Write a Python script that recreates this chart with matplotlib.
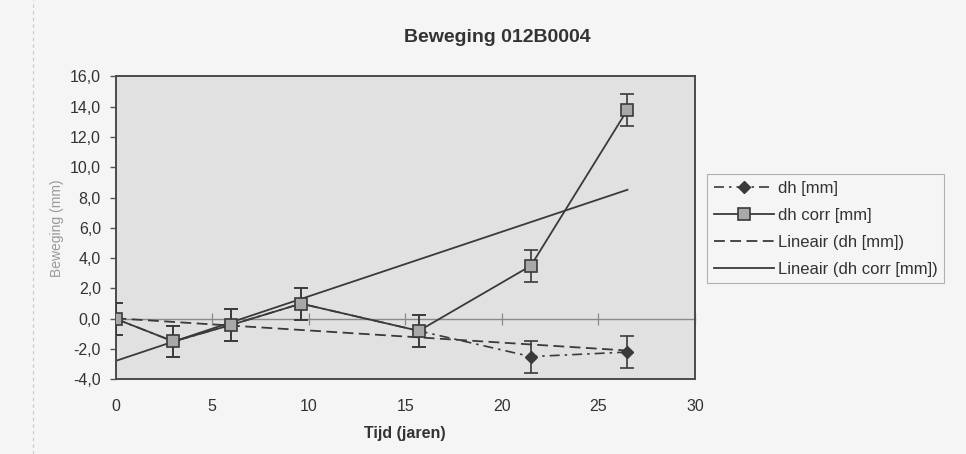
import numpy as np
import matplotlib.pyplot as plt
from matplotlib.ticker import FuncFormatter

plt.rcParams['font.family'] = ['Liberation Sans', 'DejaVu Sans']

# --- values ---
tijd = [0, 3, 6, 9.6, 15.7, 21.5, 26.5]          # jaren
dh = [0.0, -1.5, -0.4, 1.0, -0.8, -2.5, -2.2]     # mm
dh_corr = [0.0, -1.5, -0.4, 1.0, -0.8, 3.5, 13.8] # mm
fout = 1.05                                       # error bar +/- mm

x_ticks = [0, 5, 10, 15, 20, 25, 30]
y_ticks = [-4, -2, 0, 2, 4, 6, 8, 10, 12, 14, 16]

dark = '#3a3a3a'
txt = '#333333'

fig = plt.figure(figsize=(9.66, 4.54), dpi=100, facecolor='#f5f5f5')
ax = fig.add_axes([0.1196, 0.1645, 0.5999, 0.667])
ax.set_facecolor('#e1e1e1')

# --- linear trend lines (Excel "Lineair") ---
t = np.array(tijd)
p_dh = np.polyfit(t, dh, 1)
p_corr = np.polyfit(t, dh_corr, 1)
t_fit = np.array([t.min(), t.max()])

# error bars
ax.errorbar(tijd, dh, yerr=fout, fmt='none', ecolor=dark, elinewidth=1.2,
            capsize=5, capthick=1.2, zorder=3)
ax.errorbar(tijd, dh_corr, yerr=fout, fmt='none', ecolor=dark, elinewidth=1.2,
            capsize=5, capthick=1.2, zorder=4)

# series
ax.plot(tijd, dh, color=dark, lw=1.2, linestyle=(0, (6, 3, 1.5, 3)),
        marker='D', ms=6.5, mfc=dark, mec=dark, label='dh [mm]', zorder=3)
ax.plot(tijd, dh_corr, color=dark, lw=1.3, marker='s', ms=8.5,
        mfc='#a8a8a8', mec=dark, mew=1.2, label='dh corr [mm]', zorder=4)
ax.plot(t_fit, np.polyval(p_dh, t_fit), color=dark, lw=1.3,
        linestyle=(0, (6, 3)), label='Lineair (dh [mm])', zorder=2)
ax.plot(t_fit, np.polyval(p_corr, t_fit), color=dark, lw=1.3,
        label='Lineair (dh corr [mm])', zorder=2)

ax.set_xlim(0, 30)
ax.set_ylim(-4, 16)
ax.set_xticks(x_ticks)
ax.set_yticks(y_ticks)
ax.yaxis.set_major_formatter(FuncFormatter(lambda v, p: f'{v:.1f}'.replace('.', ',')))
ax.tick_params(axis='x', length=0, pad=14, labelsize=11.5, labelcolor=txt)
ax.tick_params(axis='y', length=4.5, width=1, color='#555555', pad=6,
               labelsize=11.5, labelcolor=txt)

for s in ax.spines.values():
    s.set_color('#4a4a4a')
    s.set_linewidth(1.4)

# axis crossing at y = 0 with its own tick marks
y0 = (0 - ax.get_ylim()[0]) / (ax.get_ylim()[1] - ax.get_ylim()[0])
sec = ax.secondary_xaxis(y0)
sec.set_xticks(x_ticks)
sec.tick_params(direction='inout', length=8, width=0.9, color='#8a8a8a',
                labelbottom=False)
sec.spines['bottom'].set_color('#8a8a8a')
sec.spines['bottom'].set_linewidth(1.0)

ax.set_xlabel('Tijd (jaren)', fontsize=11.5, fontweight='bold', color=txt, labelpad=9)
ax.set_ylabel('Beweging (mm)', fontsize=10, color='#9a9a9a', labelpad=4)

fig.text(497 / 966, 1 - 38 / 454, 'Beweging 012B0004', ha='center', va='center',
         fontsize=14, fontweight='bold', color=txt)

leg = ax.legend(loc='upper left', bbox_to_anchor=(707 / 966, 1 - 174 / 454),
                bbox_transform=fig.transFigure, borderaxespad=0, fontsize=12,
                handlelength=3.6, handletextpad=0.25, labelspacing=0.72,
                borderpad=0.4, numpoints=1, fancybox=False, framealpha=1)
leg.get_frame().set_facecolor('#f5f5f5')
leg.get_frame().set_edgecolor('#b0b0b0')
leg.get_frame().set_linewidth(0.8)
for tx in leg.get_texts():
    tx.set_color(txt)

# faint dashed border of the scanned chart area
fig.add_artist(plt.Line2D([33 / 966, 33 / 966], [0, 1], transform=fig.transFigure,
                          color='#c8c8c8', lw=0.8, linestyle=(0, (3, 3))))

fig.savefig('out.png', dpi=100, facecolor=fig.get_facecolor())
